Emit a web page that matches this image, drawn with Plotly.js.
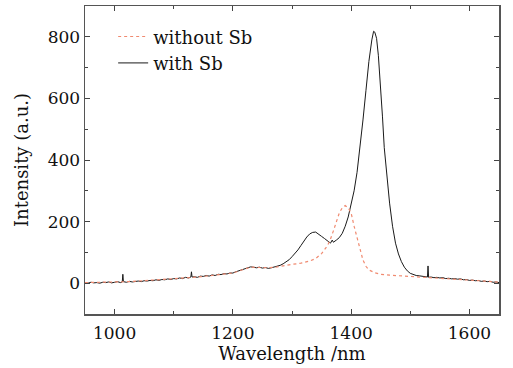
<!DOCTYPE html>
<html>
<head>
<meta charset="utf-8">
<script src="https://cdn.plot.ly/plotly-3.0.1.min.js"></script>
<style>html,body{margin:0;padding:0;background:#fff;}#chart{width:513px;height:368px;}</style>
</head>
<body>
<div id="chart"></div>
<script>
// With Sb (black solid)
const wlWith = [950,955,960,965,970,975,980,985,990,995,1000,1005,1010,1013,1014,1015,1020,1025,1030,1035,1040,1045,1050,1055,1060,1065,1070,1075,1080,1085,1090,1095,1100,1105,1110,1115,1120,1125,1129,1130,1131,1135,1140,1145,1150,1155,1160,1165,1170,1175,1180,1185,1190,1195,1200,1205,1210,1215,1220,1225,1230,1235,1240,1245,1250,1255,1260,1265,1270,1275,1280,1285,1290,1295,1300,1305,1310,1315,1320,1325,1330,1335,1340,1345,1350,1355,1360,1365,1368,1370,1375,1380,1385,1390,1395,1400,1405,1410,1415,1420,1425,1430,1435,1438,1440,1443,1446,1450,1453,1456,1460,1465,1470,1475,1480,1485,1490,1495,1500,1505,1510,1515,1520,1525,1529,1530,1531,1535,1540,1545,1550,1555,1560,1565,1570,1575,1580,1585,1590,1595,1600,1605,1610,1615,1620,1625,1630,1635,1640,1645,1650];
const intWith = [2,0,3,1,2,0,3,2,4,1,3,5,2,4,29,5,3,6,4,5,7,5,8,7,9,8,11,9,12,11,14,12,15,14,17,15,19,17,20,37,20,21,19,23,22,25,23,27,25,29,28,31,30,33,33,37,40,44,48,51,53,52,50,52,49,51,48,50,52,54,58,63,69,76,86,96,108,122,137,150,160,165,166,160,152,145,137,130,140,133,140,148,162,185,215,255,300,360,440,530,625,720,790,818,815,795,740,640,540,440,350,260,185,130,95,70,52,40,32,28,25,24,22,21,20,56,19,20,18,19,17,18,15,16,14,15,13,14,11,12,9,10,8,9,6,7,5,6,3,4,2];
// Without Sb (red dotted)
const wlWithout = [950,975,1000,1025,1050,1075,1100,1125,1150,1175,1200,1215,1230,1245,1260,1275,1285,1300,1315,1330,1340,1350,1360,1365,1370,1375,1380,1385,1390,1395,1400,1405,1410,1415,1420,1425,1430,1440,1450,1465,1485,1505,1525,1550,1575,1600,1625,1650];
const intWithout = [2,2,4,5,8,10,15,18,22,28,33,43,52,51,50,53,57,61,65,72,80,96,122,143,170,200,228,245,252,245,228,185,145,105,75,55,43,34,29,26,24,21,18,16,14,10,7,3];
const seriesNames = ['without Sb','with Sb'];
const xTicks = [1000,1200,1400,1600];
const yTicks = [0,200,400,600,800];

const fam = 'DejaVu Serif, serif';
const traces = [
  {x: wlWith, y: intWith, type:'scatter', mode:'lines', name: seriesNames[1], legendrank: 2,
   line:{color:'#1a1a1a', width:1}},
  {x: wlWithout, y: intWithout, type:'scatter', mode:'lines', name: seriesNames[0], legendrank: 1,
   line:{color:'#f08a70', width:1.2, dash:'dot'}}
];
const axisCommon = {
  showline:true, linecolor:'#555', linewidth:1.5, mirror:'allticks',
  ticks:'inside', ticklen:5, tickwidth:1, tickcolor:'#444',
  showgrid:false, zeroline:false,
  tickfont:{family:fam, size:17, color:'#111'}
};
const layout = {
  width:513, height:368,
  margin:{l:85, r:14, t:6, b:54},
  paper_bgcolor:'#fff', plot_bgcolor:'#fff',
  showlegend:true,
  legend:{x:0.068, y:0.96, xanchor:'left', yanchor:'top', bgcolor:'rgba(0,0,0,0)',
          font:{family:fam, size:18, color:'#111'}, tracegroupgap:0, itemwidth:30},
  xaxis: Object.assign({}, axisCommon, {range:[950,1650], tickvals:xTicks, ticklabelstandoff:3,
          minor:{dtick:100, tick0:0, ticks:'inside', ticklen:3, tickcolor:'#444'},
          title:{text:'Wavelength /nm', font:{family:fam, size:18, color:'#111'}, standoff:5}}),
  yaxis: Object.assign({}, axisCommon, {range:[-100,900], tickvals:yTicks,
          minor:{dtick:100, tick0:0, ticks:'inside', ticklen:3, tickcolor:'#444'},
          title:{text:'Intensity (a.u.)', font:{family:fam, size:18, color:'#111'}, standoff:14}})
};
Plotly.newPlot('chart', traces, layout, {staticPlot:true, displayModeBar:false});
</script>
</body>
</html>
